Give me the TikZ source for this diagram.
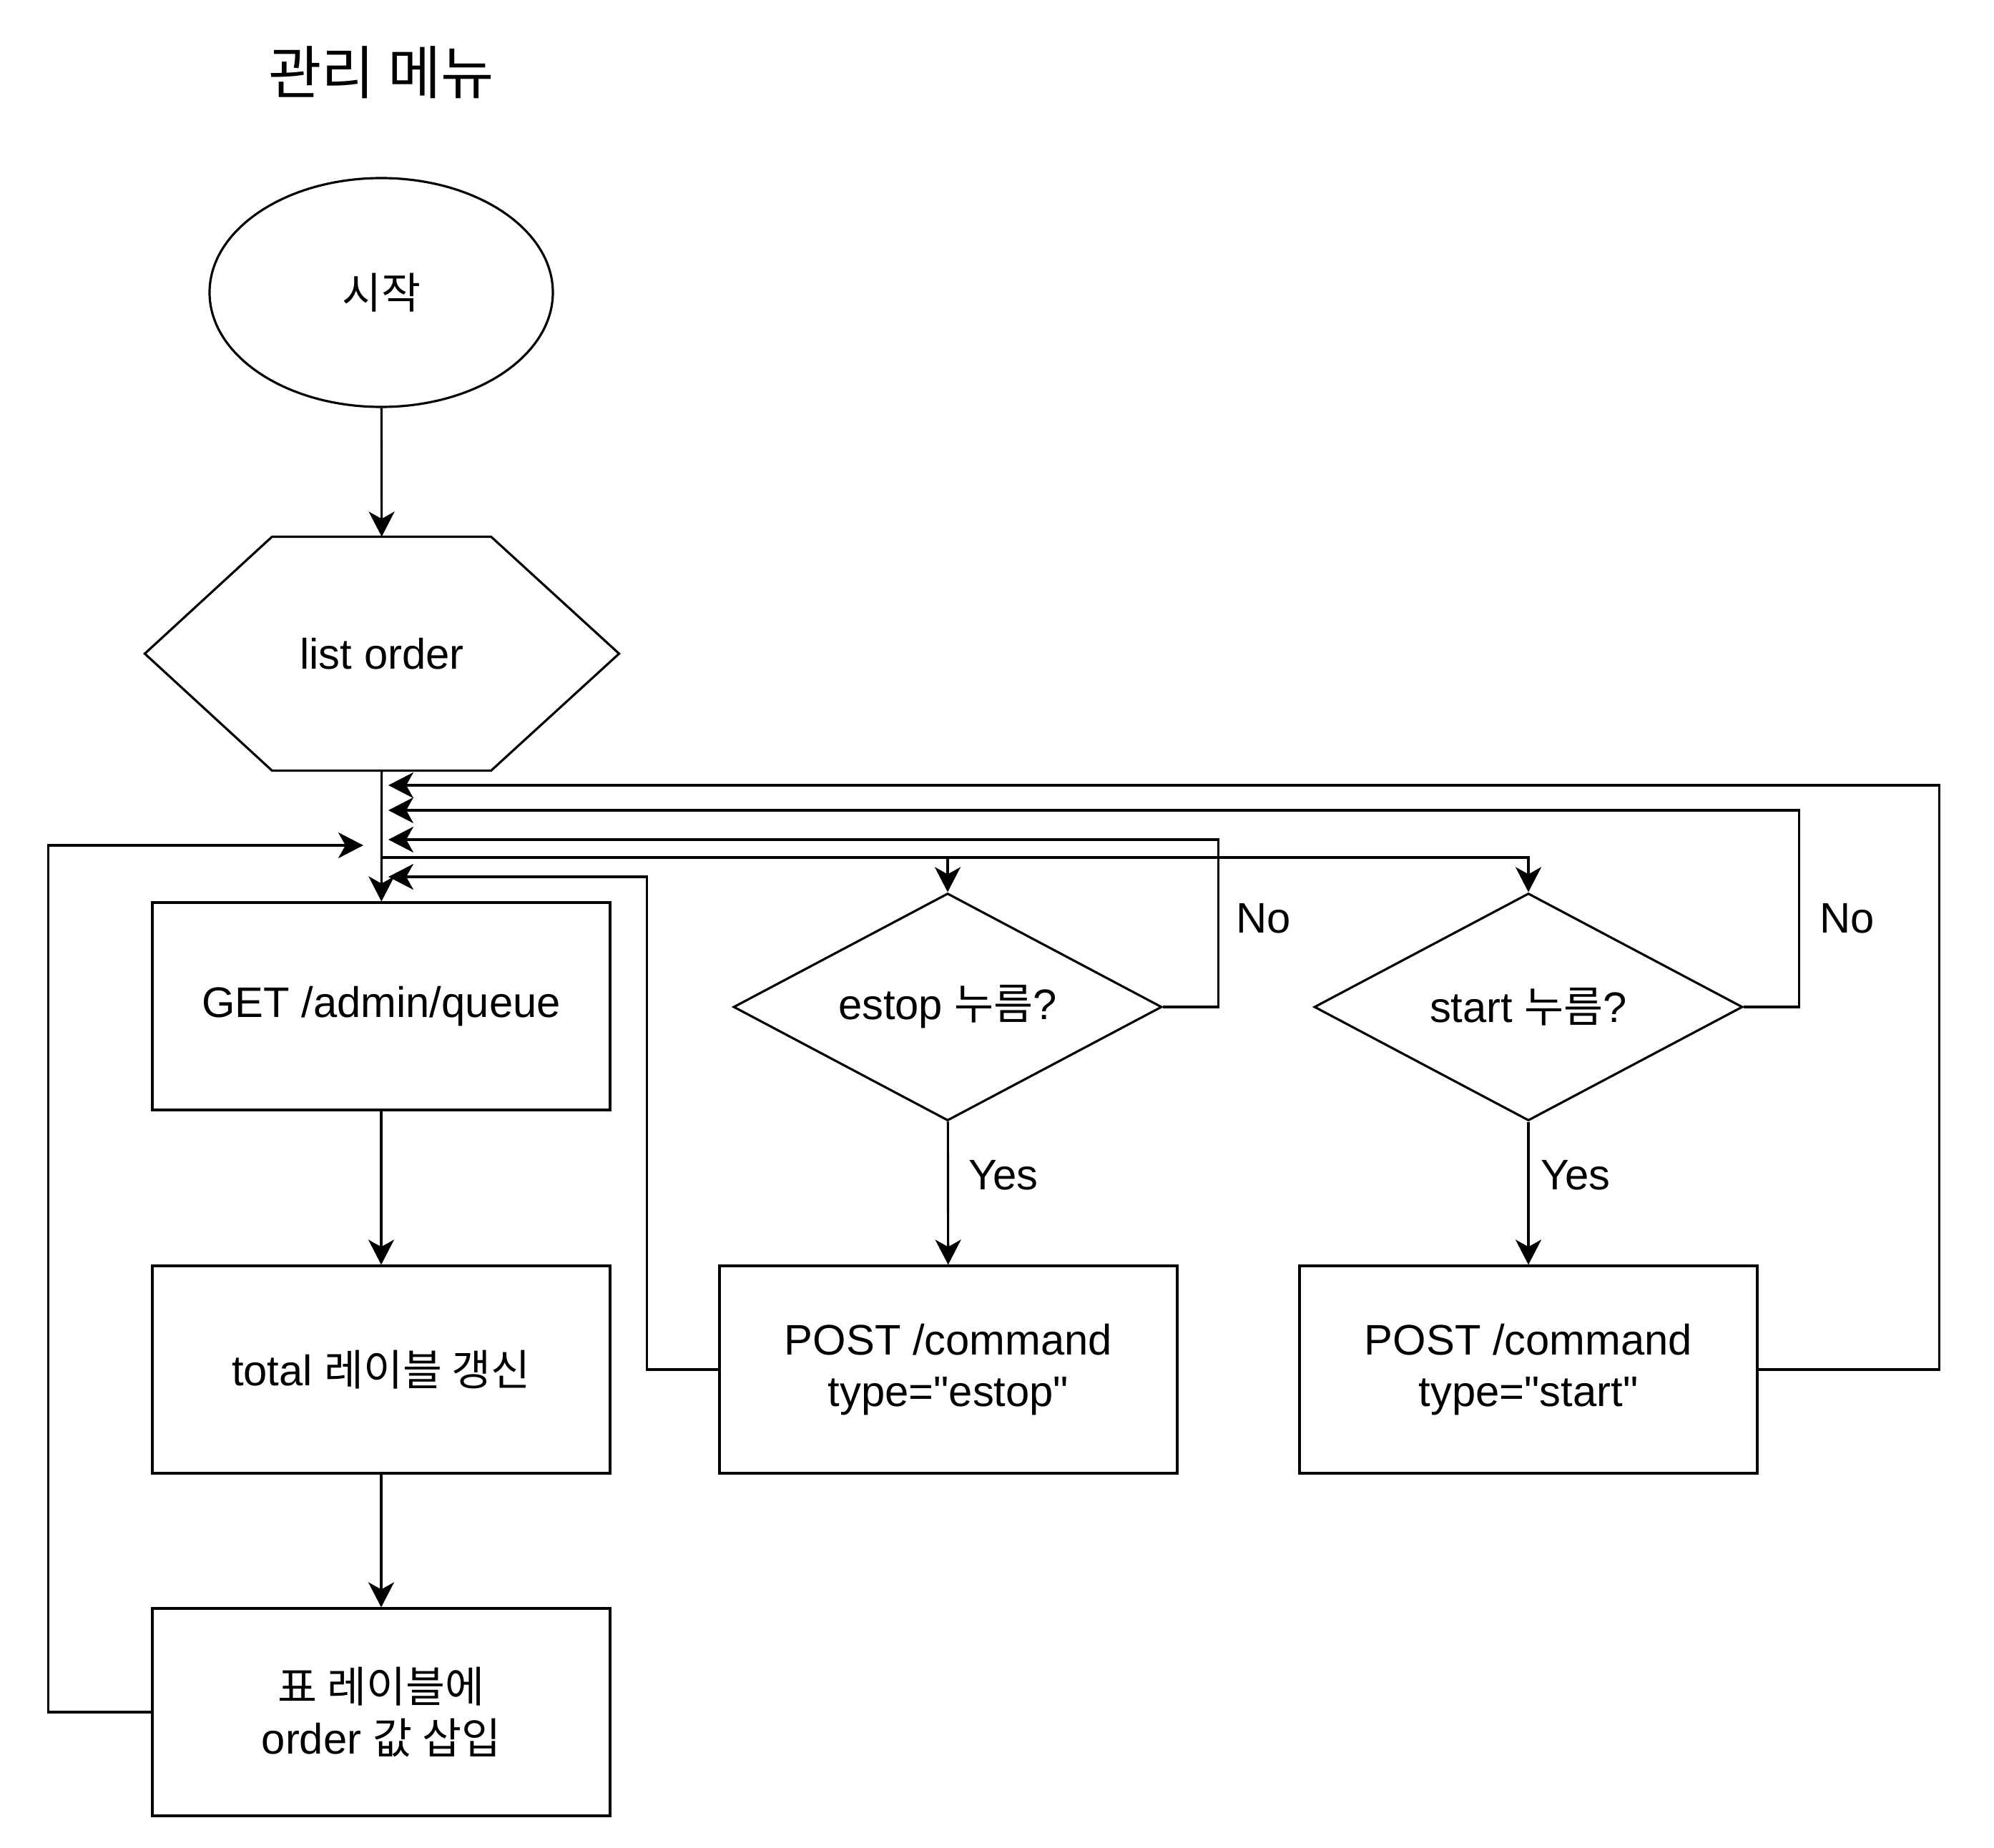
\documentclass[tikz,border=0pt]{standalone}
\usepackage{fontspec}
\setmainfont{Liberation Sans}[Ligatures=TeXOff]
\newfontfamily\krfont{Noto Sans CJK KR}
\usetikzlibrary{shapes,arrows,positioning,calc,arrows.meta}

\begin{document}
\begin{tikzpicture}[
    line width=0.9pt,
    >={Stealth[length=0.35cm,width=0.36cm,inset=0.1cm]},
    every node/.style={font=\fontsize{17}{20.5}\selectfont},
    box/.style={draw, rectangle, minimum width=6.4cm, minimum height=2.9cm, align=center},
    decision/.style={draw, diamond, minimum width=5.99cm, minimum height=3.18cm, inner sep=0pt}
]
    \useasboundingbox (0,0) rectangle (27.88,-25.84);

    % Title
    \node (title) at (5.33,-1.01) {\fontsize{23}{27}\selectfont\krfont 관리 메뉴};

    % Start and list order
    \node[draw, ellipse, minimum width=4.8cm, minimum height=3.2cm] (start) at (5.33,-4.09) {\krfont 시작};
    \node[minimum width=6.6cm, minimum height=3.24cm] (list) at (5.34,-9.14) {list order};
    \draw (list.west) -- ([xshift=1.78cm]list.north west) -- ([xshift=-1.79cm]list.north east)
        -- (list.east) -- ([xshift=-1.79cm]list.south east) -- ([xshift=1.78cm]list.south west) -- cycle;

    % Left column
    \node[box] (get) at (5.33,-14.07) {GET /admin/queue};
    \node[box] (total) at (5.33,-19.15) {total {\krfont 레이블 갱신}};
    \node[box] (table) at (5.33,-23.94) {{\krfont 표 레이블에}\\order {\krfont 값 삽입}};

    % Decisions
    \node[decision] (estop) at (13.25,-14.08) {\makebox[0pt]{estop {\krfont 누름}?}};
    \node[decision] (startd) at (21.37,-14.08) {\makebox[0pt]{start {\krfont 누름}?}};
    \node[box] (poste) at (13.26,-19.15) {POST /command\\type="estop"};
    \node[box] (posts) at (21.37,-19.15) {POST /command\\type="start"};

    % Labels
    \node (noe) at (17.67,-12.84) {No};
    \node (nos) at (25.83,-12.84) {No};
    \node (yese) at (14.03,-16.43) {Yes};
    \node (yess) at (22.03,-16.43) {Yes};

    % Return points on the trunk
    \coordinate (split) at (5.33,-11.99);
    \coordinate (inA) at (5.43,-10.98);
    \coordinate (inB) at (5.43,-11.33);
    \coordinate (inC) at (5.43,-11.74);
    \coordinate (inD) at (5.43,-12.26);
    \coordinate (inL) at (5.08,-11.82);

    % Main flow
    \draw[->] (start) -- (list);
    \draw[->] (list) -- (get);
    \draw[->] (get) -- (total);
    \draw[->] (total) -- (table);
    \draw[->] (split) -| (estop);
    \draw[->] (split) -| (startd);
    \draw[->] (estop) -- (poste);
    \draw[->] (startd) -- (posts);

    % Loops back
    \draw[->] (table.west) -- ++(-1.44,0) |- (inL);
    \draw[->] (estop.east) -- ++(0.77,0) |- (inC);
    \draw[->] (startd.east) -- ++(0.77,0) |- (inB);
    \draw[->] (poste.west) -- ++(-1.0,0) |- (inD);
    \draw[->] (posts.east) -- ++(2.53,0) |- (inA);
\end{tikzpicture}
\end{document}
